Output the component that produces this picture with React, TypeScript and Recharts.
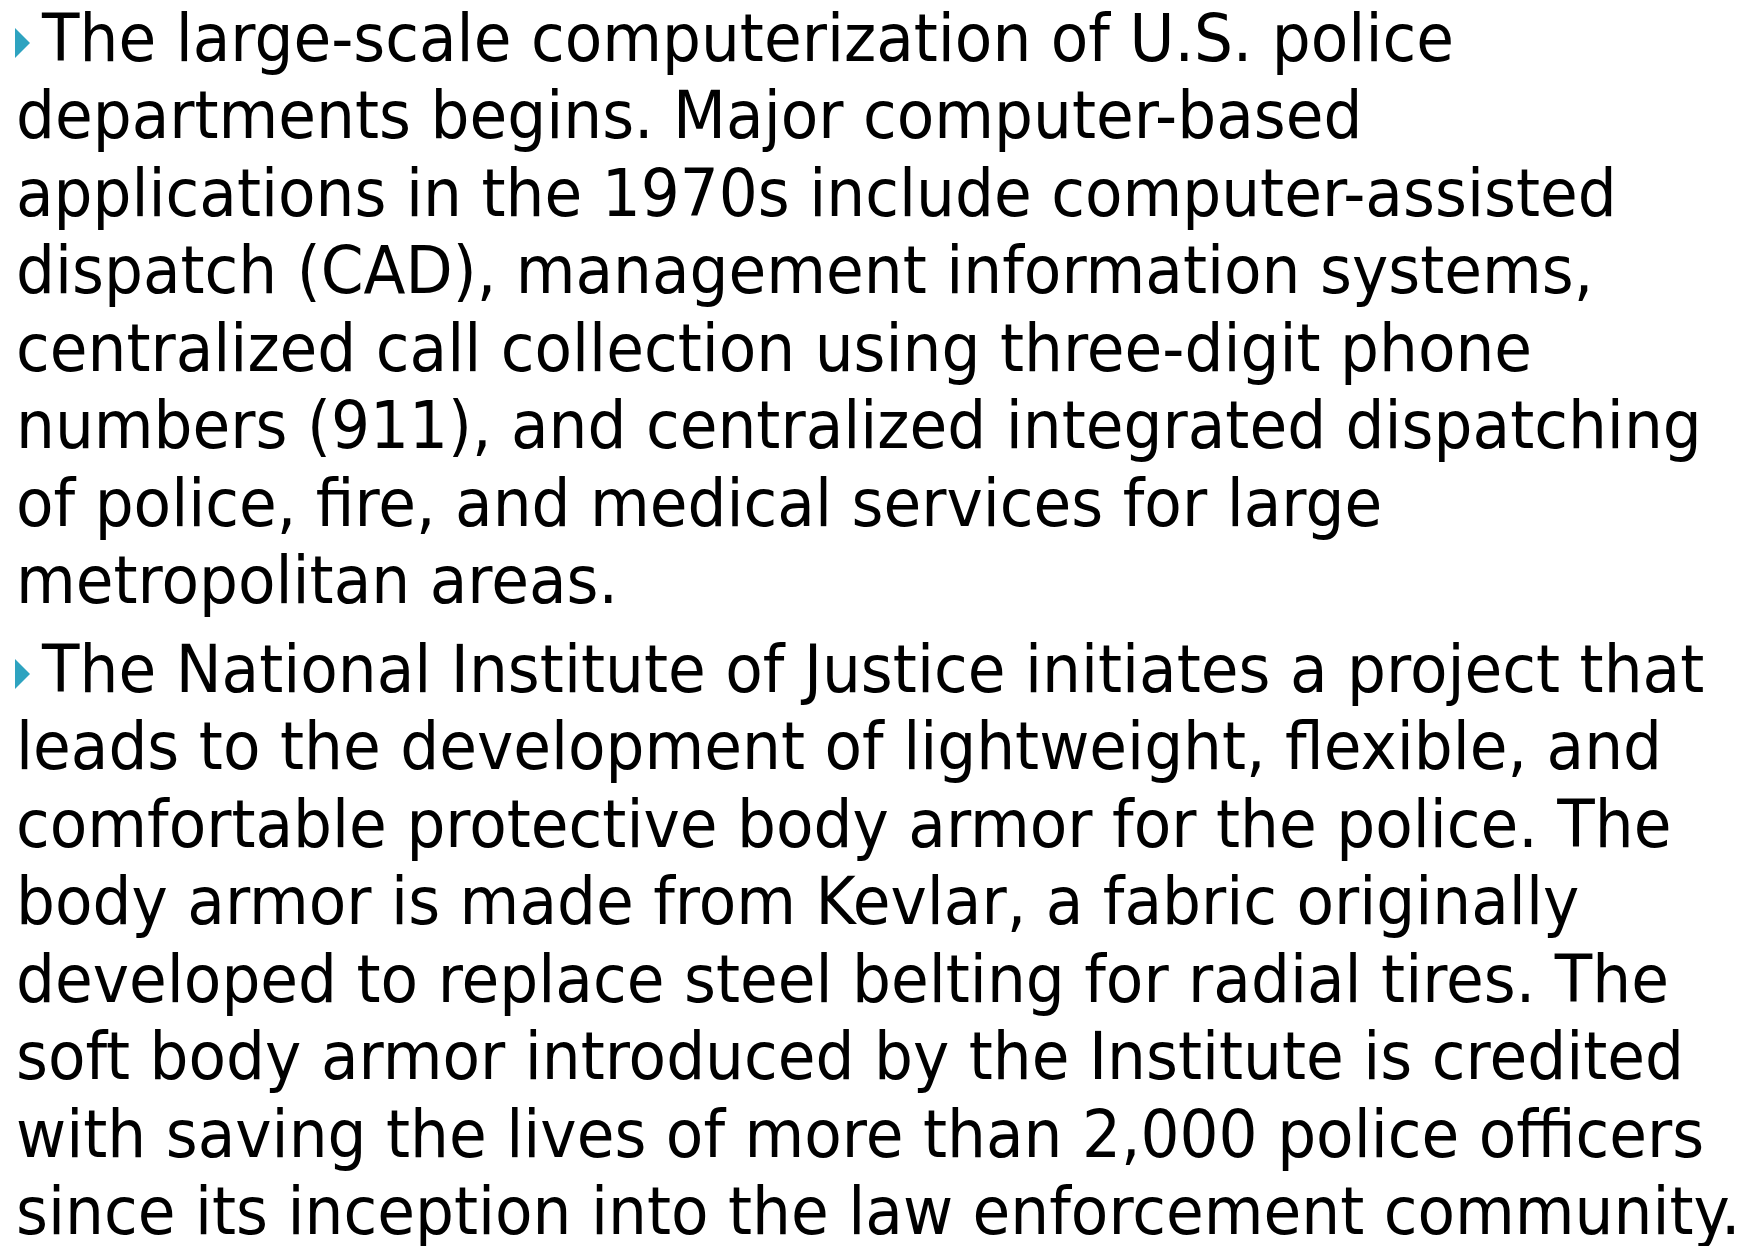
import React from "react";
import { Surface, Layer, Text } from "recharts";

const para1Lines = [
  "The large-scale computerization of U.S. police",
  "departments begins. Major computer-based",
  "applications in the 1970s include computer-assisted",
  "dispatch (CAD), management information systems,",
  "centralized call collection using three-digit phone",
  "numbers (911), and centralized integrated dispatching",
  "of police, fire, and medical services for large",
  "metropolitan areas.",
];

const para2Lines = [
  "The National Institute of Justice initiates a project that",
  "leads to the development of lightweight, flexible, and",
  "comfortable protective body armor for the police. The",
  "body armor is made from Kevlar, a fabric originally",
  "developed to replace steel belting for radial tires. The",
  "soft body armor introduced by the Institute is credited",
  "with saving the lives of more than 2,000 police officers",
  "since its inception into the law enforcement community.",
];

const paragraphs = [para1Lines, para2Lines];
const paraBaselines = [61, 692];

const W = 1754;
const H = 1246;
const LINE = 77.5;
const FONT = "'DejaVu Sans', sans-serif";
const SIZE = 66;
const SX = 0.93;

export default function App() {
  return (
    <div style={{ position: "absolute", left: 0, top: 0, width: W, height: H, background: "#fff" }}>
      <Surface width={W} height={H}>
        <rect x={0} y={0} width={W} height={H} fill="#ffffff" />
        {paragraphs.map((lines, pi) => {
          const b0 = paraBaselines[pi];
          return (
            <Layer key={pi}>
              <polygon
                points={`15,${b0 - 33} 30,${b0 - 18} 15,${b0 - 3}`}
                fill="#2ea3c0"
              />
              {lines.map((ln, li) => {
                const x = li === 0 ? 42 : 16;
                return (
                  <Layer key={li} transform={`translate(${x},0) scale(${SX},1)`}>
                    <Text
                      x={0}
                      y={b0 + li * LINE}
                      verticalAnchor="end"
                      textAnchor="start"
                      fontFamily={FONT}
                      fontSize={SIZE}
                      fill="#000"
                    >
                      {ln}
                    </Text>
                  </Layer>
                );
              })}
            </Layer>
          );
        })}
      </Surface>
    </div>
  );
}
